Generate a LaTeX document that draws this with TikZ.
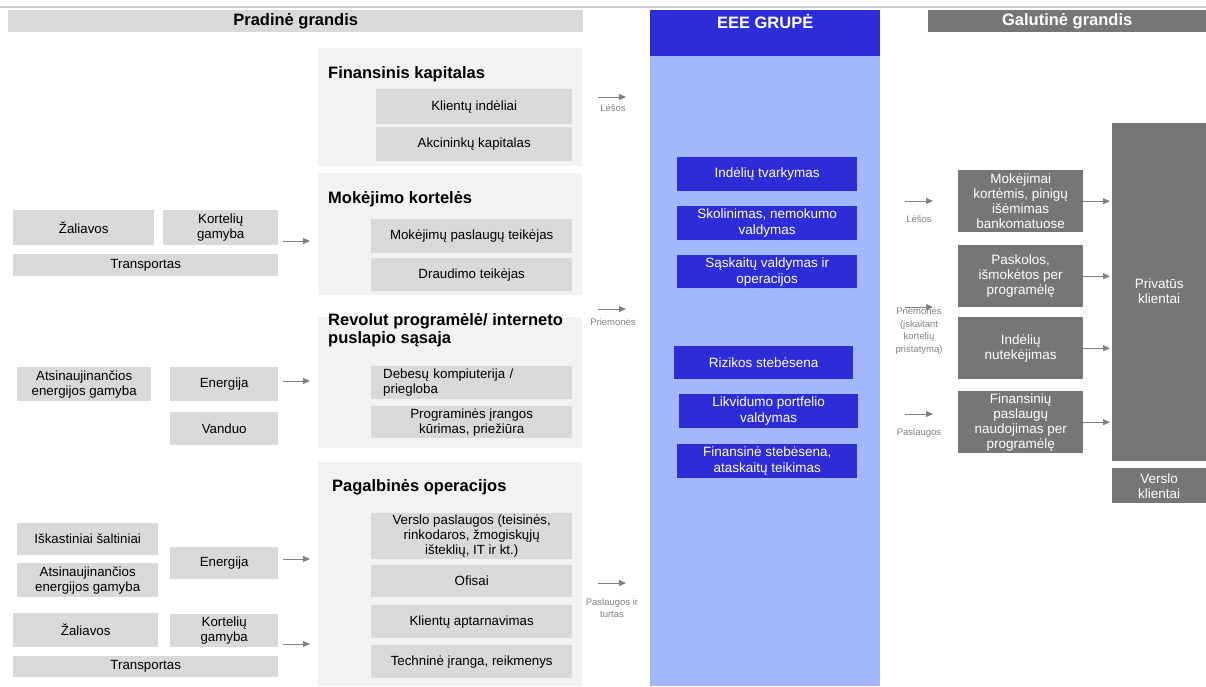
\documentclass[tikz,border=0pt]{standalone}
\usepackage{fontspec}
\setmainfont{Liberation Sans}
\usetikzlibrary{arrows.meta,positioning}

\definecolor{boxgray}{RGB}{217,217,217}
\definecolor{grpgray}{RGB}{242,242,242}
\definecolor{endgray}{RGB}{118,118,118}
\definecolor{eeeblue}{RGB}{45,45,215}
\definecolor{eeelight}{RGB}{163,184,250}
\definecolor{arrgray}{RGB}{128,128,128}

\begin{document}
\begin{tikzpicture}[x=1pt, y=-1pt,
size/.style 2 args = {minimum width=#1pt, minimum height=#2pt},
header/.style = {anchor=north west, inner sep=0pt, minimum height=22pt,
                 font=\fontsize{16.5}{18}\selectfont\bfseries},
group/.style = {anchor=north west, fill=grpgray, inner sep=0pt},
grptitle/.style = {anchor=base west, inner sep=0pt, align=left,
                   font=\fontsize{16.5}{18}\selectfont\bfseries},
block/.style = {anchor=north west, fill=boxgray, inner sep=0pt, align=center,
                font=\fontsize{13.3}{15}\selectfont},
eeeblock/.style = {block, fill=eeeblue, text=white, font=\fontsize{13.5}{16}\selectfont},
endblock/.style = {block, fill=endgray, text=white, font=\fontsize{13.5}{15}\selectfont},
flow/.style = {inner sep=0pt, align=center, text=arrgray,
               font=\fontsize{9.5}{12.5}\selectfont},
line/.style = {draw=arrgray, line width=0.9pt, -{Triangle[length=7pt,width=6pt]}}]

\useasboundingbox (0,0) rectangle (1206,686);

% headers
\draw[black!20, line width=1.5pt] (0,7) -- (1206,7);
\fill[eeeblue] (650,10) rectangle (880,56);
\fill[eeelight] (650,56) rectangle (880,686);
\node [header, fill=boxgray, size={575}{22}] (pradine) at (8,10) {Pradinė grandis};
\node [header, text=white, size={230}{22}] (eee) at (650,10) {EEE GRUPĖ};
\node [header, fill=endgray, text=white, size={278}{22}] (galutine) at (928,10) {Galutinė grandis};

% left column
\node [block, size={141}{35}] (zal1) at (13,210) {Žaliavos};
\node [block, size={115}{35}] (kort1) at (163,210) {Kortelių\\gamyba};
\node [block, size={265}{22}] (trans1) at (13,254) {Transportas};

\node [block, size={134}{34}] (atsin1) at (17,367) {Atsinaujinančios\\energijos gamyba};
\node [block, size={108}{34}] (energ1) at (170,367) {Energija};
\node [block, size={108}{33}] (vand) at (170,412) {Vanduo};

\node [block, size={141}{32}] (iskast) at (17,523) {Iškastiniai šaltiniai};
\node [block, size={141}{34}] (atsin2) at (17,563) {Atsinaujinančios\\energijos gamyba};
\node [block, size={108}{32}] (energ2) at (170,547) {Energija};
\node [block, size={145}{34}] (zal2) at (13,613) {Žaliavos};
\node [block, size={108}{33}] (kort2) at (170,614) {Kortelių\\gamyba};
\node [block, size={265}{21}] (trans2) at (13,656) {Transportas};

% groups
\node [group, size={264}{118}] (gfin) at (318,48) {};
\node [grptitle] (tfin) at (328,78) {Finansinis kapitalas};
\node [block, size={196}{35}] (klind) at (376,89) {Klientų indėliai};
\node [block, size={196}{34}] (akc) at (376,127) {Akcininkų kapitalas};

\node [group, size={264}{122}] (gmok) at (318,173) {};
\node [grptitle] (tmok) at (328,203) {Mokėjimo kortelės};
\node [block, size={201}{34}] (mpt) at (371,219) {Mokėjimų paslaugų teikėjas};
\node [block, size={201}{33}] (draud) at (371,258) {Draudimo teikėjas};

\node [group, size={264}{131}] (grev) at (318,317) {};
\node [grptitle] (trev) at (328,343) {Revolut programėlė/ interneto\\puslapio sąsaja};
\node [block, size={201}{33}, align=left, text width=177pt, inner xsep=12pt] (debes) at (371,366)
      {Debesų kompiuterija /\\priegloba};
\node [block, size={201}{32}] (progr) at (371,406) {Programinės įrangos\\kūrimas, priežiūra};

\node [group, size={264}{224}] (gpag) at (318,462) {};
\node [grptitle] (tpag) at (332,491) {Pagalbinės operacijos};
\node [block, size={201}{46}] (verslp) at (371,513)
      {Verslo paslaugos (teisinės,\\rinkodaros, žmogiskųjų\\išteklių, IT ir kt.)};
\node [block, size={201}{32}] (ofis) at (371,565) {Ofisai};
\node [block, size={201}{33}] (klapt) at (371,605) {Klientų aptarnavimas};
\node [block, size={201}{33}] (techn) at (371,645) {Techninė įranga, reikmenys};

% EEE group
\node [eeeblock, size={180}{34}] (indt) at (677,157) {Indėlių tvarkymas};
\node [eeeblock, size={180}{34}] (skol) at (677,206) {Skolinimas, nemokumo\\valdymas};
\node [eeeblock, size={180}{33}] (sask) at (677,255) {Sąskaitų valdymas ir\\operacijos};
\node [eeeblock, size={179}{33}] (rizik) at (674,346) {Rizikos stebėsena};
\node [eeeblock, size={179}{34}] (likv) at (679,394) {Likvidumo portfelio\\valdymas};
\node [eeeblock, size={180}{34}] (finst) at (677,444) {Finansinė stebėsena,\\ataskaitų teikimas};

% end of chain
\node [endblock, size={125}{62}] (mokej) at (958,170) {Mokėjimai\\kortėmis, pinigų\\išėmimas\\bankomatuose};
\node [endblock, size={125}{62}] (pask) at (958,245) {Paskolos,\\išmokėtos per\\programėlę};
\node [endblock, size={125}{62}] (nutek) at (958,317) {Indėlių\\nutekėjimas};
\node [endblock, size={125}{62}] (naud) at (958,391) {Finansinių\\paslaugų\\naudojimas per\\programėlę};
\node [endblock, size={94}{338}, text height=22pt] (priv) at (1112,123) {Privatūs\\klientai};
\node [endblock, size={94}{35}] (verslk) at (1112,468) {Verslo\\klientai};

% flow labels
\node [flow] (lesos1) at (613,108) {Lėšos};
\node [flow] (priem1) at (613,322) {Priemonės};
\node [flow] (pasl1) at (612,608) {Paslaugos ir\\turtas};
\node [flow] (lesos2) at (919,219) {Lėšos};
\node [flow] (priem2) at (919,331) {Priemonės\\(įskaitant\\kortelių\\pristatymą)};
\node [flow] (pasl2) at (919,433) {Paslaugos};

\coordinate (in1a) at (283,241);  \coordinate (in1b) at (310,241);
\coordinate (in2a) at (283,381);  \coordinate (in2b) at (310,381);
\coordinate (in3a) at (283,559);  \coordinate (in3b) at (310,559);
\coordinate (in4a) at (283,644);  \coordinate (in4b) at (310,644);
\coordinate (mid1a) at (598,97);  \coordinate (mid1b) at (626,97);
\coordinate (mid2a) at (598,309); \coordinate (mid2b) at (626,309);
\coordinate (mid3a) at (598,583); \coordinate (mid3b) at (626,583);
\coordinate (out1a) at (905,201); \coordinate (out1b) at (933,201);
\coordinate (out2a) at (905,307); \coordinate (out2b) at (933,307);
\coordinate (out3a) at (905,414); \coordinate (out3b) at (933,414);

\begin{scope}[every path/.style=line]
\path (in1a) -- (in1b);
\path (in2a) -- (in2b);
\path (in3a) -- (in3b);
\path (in4a) -- (in4b);

\path (mid1a) -- (mid1b);
\path (mid2a) -- (mid2b);
\path (mid3a) -- (mid3b);

\path (out1a) -- (out1b);
\path (out2a) -- (out2b);
\path (out3a) -- (out3b);

\path (mokej.east) -- ([xshift=-2pt]mokej.east -| priv.west);
\path (pask.east) -- ([xshift=-2pt]pask.east -| priv.west);
\path (nutek.east) -- ([xshift=-2pt]nutek.east -| priv.west);
\path (naud.east) -- ([xshift=-2pt]naud.east -| priv.west);
\end{scope}
\end{tikzpicture}
\end{document}
